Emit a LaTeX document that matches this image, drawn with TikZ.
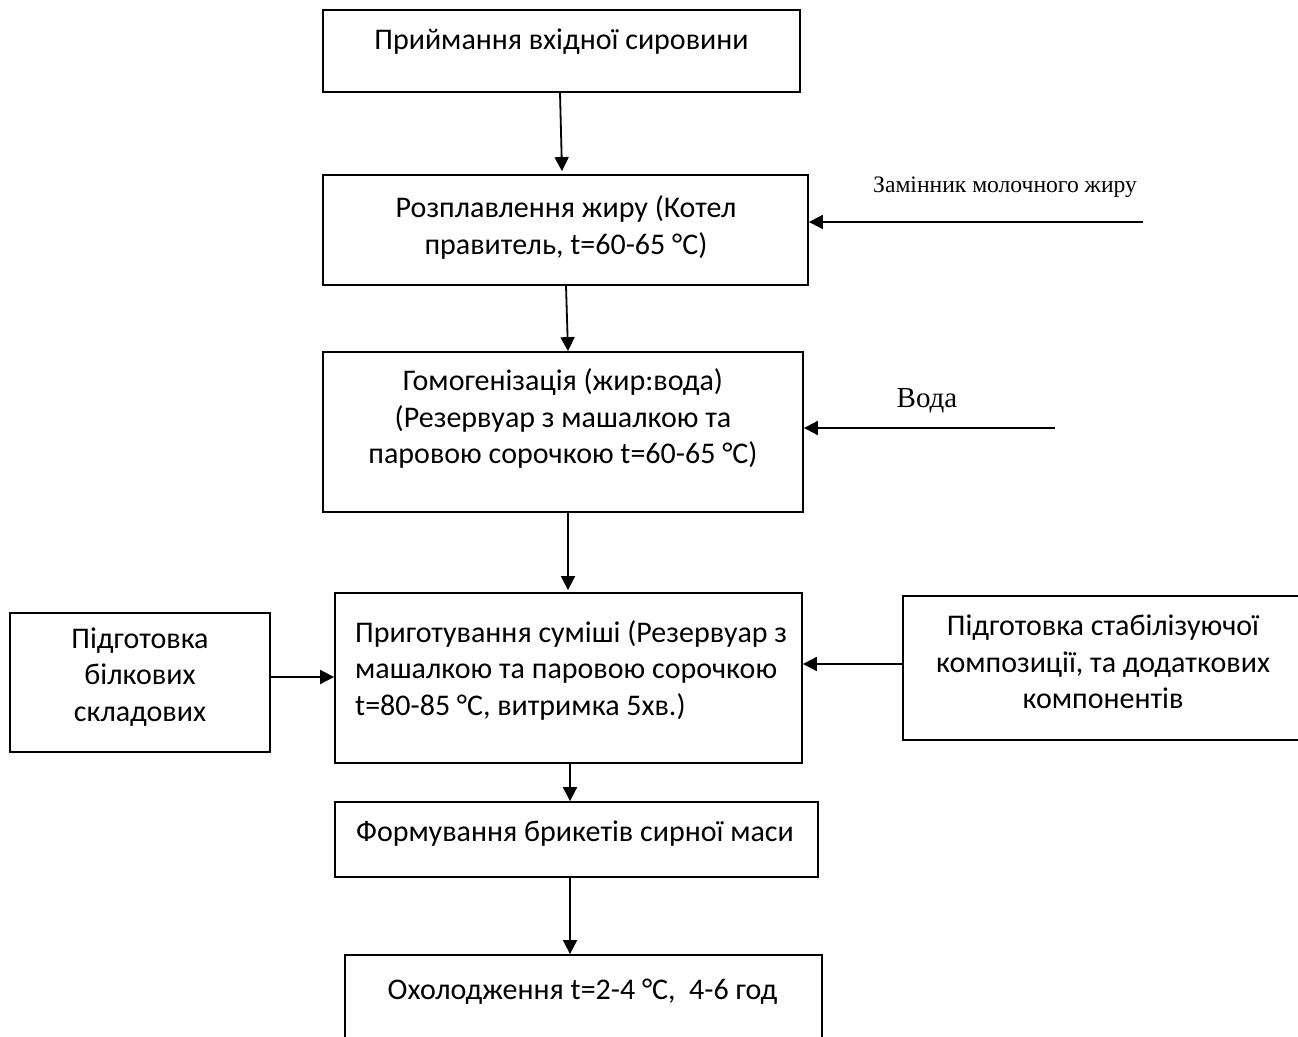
\documentclass[tikz,border=0pt]{standalone}
\usepackage{fontspec}
\setmainfont{Carlito}
\newfontfamily\notefont{Liberation Serif}
\usetikzlibrary{arrows.meta, positioning, calc}

\begin{document}
\begin{tikzpicture}[x=1pt, y=-1pt,
    every node/.style={font=\fontsize{30}{36.5}\selectfont, inner sep=0pt},
    stage/.style={draw, line width=1.8pt},
    stagetxt/.style={align=center},
    flow/.style={-{Triangle[length=14pt, width=14pt]}, line width=1.8pt},
    note/.style={font=\notefont\fontsize{23.6}{27}\selectfont}]
  \useasboundingbox (0,0) rectangle (1298,1036);

  % main line of the process
  \node[stage, minimum width=477, minimum height=82] (intake) at (561.5,51) {};
  \node[stagetxt] (intake-t) at (561.5,42) {Приймання вхідної сировини};

  \node[stage, minimum width=485, minimum height=110] (melt) at (565.5,230) {};
  \node[stagetxt] (melt-t) at (566,227.5) {Розплавлення жиру (Котел\\правитель, t=60-65 °C)};

  \node[stage, minimum width=480, minimum height=160] (homog) at (563,432) {};
  \node[stagetxt] (homog-t) at (563,418.5) {Гомогенізація (жир:вода)\\(Резервуар з машалкою та\\паровою сорочкою t=60-65 °C)};

  \node[stage, minimum width=467, minimum height=170] (mix) at (568.5,678) {};
  \node[anchor=west, align=left] (mix-t) at (355,670) {Приготування суміші (Резервуар з\\машалкою та паровою сорочкою\\t=80-85 °C, витримка 5хв.)};

  \node[stage, minimum width=483, minimum height=75] (form) at (576.5,839.5) {};
  \node[stagetxt] (form-t) at (575,834) {Формування брикетів сирної маси};

  \node[stage, minimum width=477, minimum height=120] (cool) at (583.5,1015) {};
  \node[stagetxt] (cool-t) at (582.5,992) {Охолодження t=2-4 °C, \ 4-6 год};

  % side inputs
  \node[stage, minimum width=260, minimum height=139] (protein) at (140,682.5) {};
  \node[stagetxt] (protein-t) at (140,677) {Підготовка\\білкових\\складових};

  \node[stage, minimum width=397, minimum height=144] (stab) at (1101.5,668) {};
  \node[stagetxt] (stab-t) at (1103,662) {Підготовка стабілізуючої\\композиції, та додаткових\\компонентів};

  \node[note, anchor=west] (fat-l) at (873,187) {Замінник молочного жиру};
  \node[note, font=\notefont\fontsize{29}{33}\selectfont] (water-l) at (927,401) {Вода};
  \coordinate (fat-in) at (1143,222);
  \coordinate (water-in) at (1055,428);

  % arrows
  \draw[flow] ([xshift=-1.5pt]intake.south) -- ([xshift=-3.5pt,yshift=3pt]melt.north);
  \draw[flow] ([xshift=0.5pt]melt.south) -- ([xshift=5pt]homog.north);
  \draw[flow] ([xshift=5pt]homog.south) -- ([xshift=-0.5pt,yshift=2pt]mix.north);
  \draw[flow] ([xshift=1.5pt]mix.south) -- ([xshift=-6.5pt]form.north);
  \draw[flow] ([xshift=-6.5pt]form.south) -- ([xshift=-13.5pt]cool.north);
  \draw[flow] (fat-in) -- (fat-in -| melt.east);
  \draw[flow] (water-in) -- (water-in -| homog.east);
  \draw[flow] ([yshift=5.5pt]protein.east) -- ([yshift=5.5pt]protein.east -| mix.west);
  \draw[flow] ([yshift=4pt]stab.west) -- ([yshift=4pt]stab.west -| mix.east);
\end{tikzpicture}
\end{document}
